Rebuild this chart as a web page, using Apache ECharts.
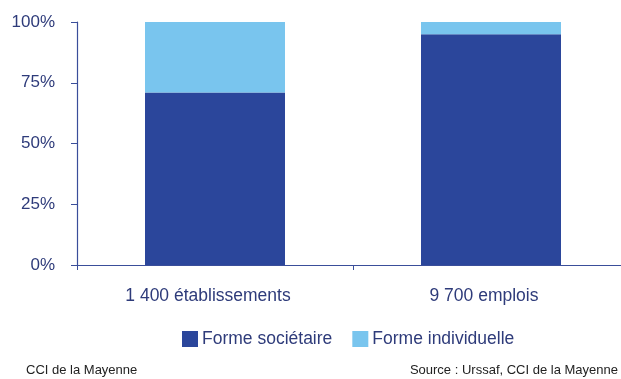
<!DOCTYPE html>
<html>
<head>
<meta charset="utf-8">
<script src="https://cdn.jsdelivr.net/npm/echarts@6/dist/echarts.min.js"></script>
<style>
  html, body { margin: 0; padding: 0; background: #fff; overflow: hidden; }
  /* the category axis runs slightly past the right edge of the window */
  #chart { width: 629px; height: 379px; }
</style>
</head>
<body>
<div id="chart"></div>
<script>
// Répartition par forme juridique (en %)
const categories = ['1 400 établissements', '9 700 emplois'];
const formeSocietaire = [71, 95];
const formeIndividuelle = [29, 5];
const seriesNames = ['Forme sociétaire', 'Forme individuelle'];

const DARK = '#2B469B';
const LIGHT = '#79C5EE';
const AXIS = '#3A4E9A';
const TEXT = '#2E3B7A';
const FONT = '"Liberation Sans", Arial, Helvetica, sans-serif';

const chart = echarts.init(document.getElementById('chart'), null, { renderer: 'canvas' });

chart.setOption({
  animation: false,
  textStyle: { fontFamily: FONT },
  grid: { left: 77, top: 22, right: 0, height: 243, containLabel: false },
  legend: {
    data: seriesNames,
    left: 182,
    top: 330,
    itemWidth: 16,
    itemHeight: 16,
    itemGap: 20,
    icon: 'rect',
    textStyle: { fontFamily: FONT, fontSize: 17.5, color: TEXT, padding: [0, 0, 0, -1] },
    padding: 0,
    selectedMode: false
  },
  xAxis: {
    type: 'category',
    data: categories,
    axisLine: { lineStyle: { color: AXIS, width: 1.2 } },
    axisTick: { show: true, length: 5, inside: false, lineStyle: { color: AXIS } },
    axisLabel: {
      color: TEXT, fontSize: 17.5, margin: 22, fontFamily: FONT,
      padding: [0, 14, 0, 0]
    }
  },
  yAxis: {
    type: 'value',
    min: 0,
    max: 100,
    interval: 25,
    axisLine: { show: true, lineStyle: { color: AXIS, width: 1.2 } },
    axisTick: { show: true, length: 6, lineStyle: { color: AXIS } },
    splitLine: { show: false },
    axisLabel: {
      color: TEXT, fontSize: 17, margin: 22, fontFamily: FONT,
      formatter: v => v + '%'
    }
  },
  series: [
    {
      name: seriesNames[0],
      type: 'bar',
      stack: 'total',
      data: formeSocietaire,
      barWidth: 140,
      itemStyle: { color: DARK }
    },
    {
      name: seriesNames[1],
      type: 'bar',
      stack: 'total',
      data: formeIndividuelle,
      barWidth: 140,
      itemStyle: { color: LIGHT }
    }
  ],
  graphic: [
    {
      type: 'text', left: 26, top: 364,
      style: { text: 'CCI de la Mayenne', font: '13px ' + FONT, fill: '#222' }
    },
    {
      type: 'text', right: 11, top: 364,
      style: { text: 'Source : Urssaf, CCI de la Mayenne', font: '13px ' + FONT, fill: '#222' }
    }
  ]
});
</script>
</body>
</html>
